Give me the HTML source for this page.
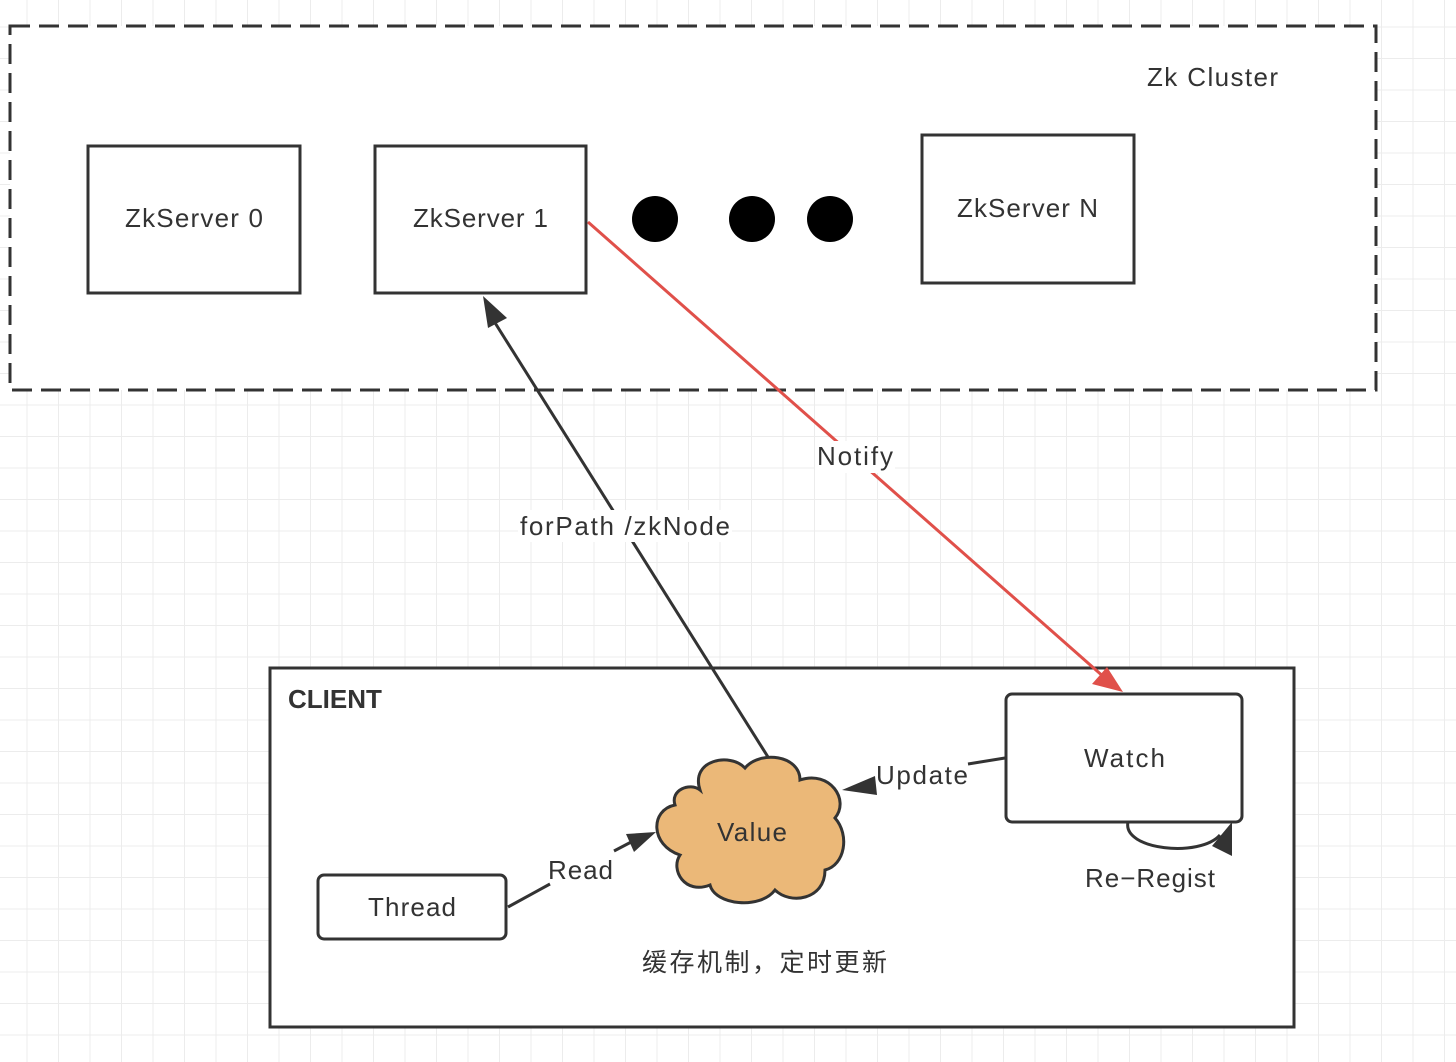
<!DOCTYPE html>
<html><head><meta charset="utf-8"><style>
html,body{margin:0;padding:0;background:#fff}
svg{display:block}
text{font-family:"Liberation Sans","Noto Sans CJK SC",sans-serif;fill:#333}
</style></head><body>
<svg width="1456" height="1062" viewBox="0 0 1456 1062" xmlns="http://www.w3.org/2000/svg">
<defs>
<pattern id="g" x="-4" y="-4" width="31.5" height="31.5" patternUnits="userSpaceOnUse">
<path d="M31.5 0V31.5M0 31.5H31.5" stroke="#ececec" stroke-width="2" fill="none"/>
</pattern>
</defs>
<rect width="1456" height="1062" fill="url(#g)"/>
<rect x="10" y="26" width="1366" height="364" fill="#fff" stroke="#333" stroke-width="3" stroke-dasharray="20,9"/>
<text x="1147" y="86" font-size="26" textLength="131" lengthAdjust="spacing">Zk Cluster</text>
<rect x="88" y="146" width="212" height="147" fill="#fff" stroke="#333" stroke-width="3"/>
<text x="125" y="227" font-size="26" textLength="138" lengthAdjust="spacing">ZkServer 0</text>
<rect x="375" y="146" width="211" height="147" fill="#fff" stroke="#333" stroke-width="3"/>
<text x="413" y="227" font-size="26" textLength="135" lengthAdjust="spacing">ZkServer 1</text>
<rect x="922" y="135" width="212" height="148" fill="#fff" stroke="#333" stroke-width="3"/>
<text x="957" y="217" font-size="26" textLength="141" lengthAdjust="spacing">ZkServer N</text>
<circle cx="655" cy="219" r="23" fill="#000"/>
<circle cx="752" cy="219" r="23" fill="#000"/>
<circle cx="830" cy="219" r="23" fill="#000"/>
<rect x="270" y="668" width="1024" height="359" fill="#fff" stroke="#333" stroke-width="3"/>
<text x="288" y="708" font-size="26" font-weight="bold">CLIENT</text>
<rect x="1006" y="694" width="236" height="128" rx="6" fill="#fff" stroke="#333" stroke-width="3"/>
<text x="1084" y="767" font-size="26" textLength="81" lengthAdjust="spacing">Watch</text>
<rect x="318" y="875" width="188" height="64" rx="6" fill="#fff" stroke="#333" stroke-width="3"/>
<text x="368" y="916" font-size="26" textLength="88" lengthAdjust="spacing">Thread</text>
<path d="M700 790 C690 760 730 752 745 768 C760 750 800 755 800 780 C830 770 850 800 835 818 C850 835 845 865 825 870 C825 900 790 905 775 890 C760 910 715 905 710 885 C685 895 670 870 680 855 C650 845 650 810 675 805 C670 790 690 782 700 790 Z" fill="#ebb878" stroke="#333" stroke-width="3"/>
<text x="717" y="841" font-size="26" textLength="70" lengthAdjust="spacing">Value</text>
<line x1="768" y1="757" x2="492" y2="318" stroke="#333" stroke-width="3"/>
<polygon points="483,296 507,318 488,328" fill="#333"/>
<rect x="518" y="510" width="214" height="32" fill="#fff"/>
<text x="520" y="535" font-size="26" textLength="210" lengthAdjust="spacing">forPath  /zkNode</text>
<line x1="588" y1="222" x2="1105" y2="678" stroke="#e0504a" stroke-width="3"/>
<polygon points="1123,692 1092,684 1107,667" fill="#e0504a"/>
<rect x="815" y="441" width="80" height="32" fill="#fff"/>
<text x="817" y="465" font-size="26" textLength="76" lengthAdjust="spacing">Notify</text>
<path d="M1005 758 L968 764" stroke="#333" stroke-width="3"/>
<polygon points="842,790 875,776 877,795" fill="#333"/>
<text x="876" y="784" font-size="26" textLength="92" lengthAdjust="spacing">Update</text>
<line x1="508" y1="907" x2="550" y2="884" stroke="#333" stroke-width="3"/>
<line x1="614" y1="851" x2="635" y2="840" stroke="#333" stroke-width="3"/>
<polygon points="656,832 626,834 634,852" fill="#333"/>
<text x="548" y="879" font-size="26" textLength="65" lengthAdjust="spacing">Read</text>
<path d="M1128 822 C1122 850 1200 858 1220 835" fill="none" stroke="#333" stroke-width="3"/>
<polygon points="1232,822 1232,856 1212,846" fill="#333"/>
<text x="1085" y="887" font-size="26" textLength="130" lengthAdjust="spacing">Re−Regist</text>
<text x="642" y="971" font-size="25" textLength="245" lengthAdjust="spacing">缓存机制，定时更新</text>
</svg>
</body></html>
